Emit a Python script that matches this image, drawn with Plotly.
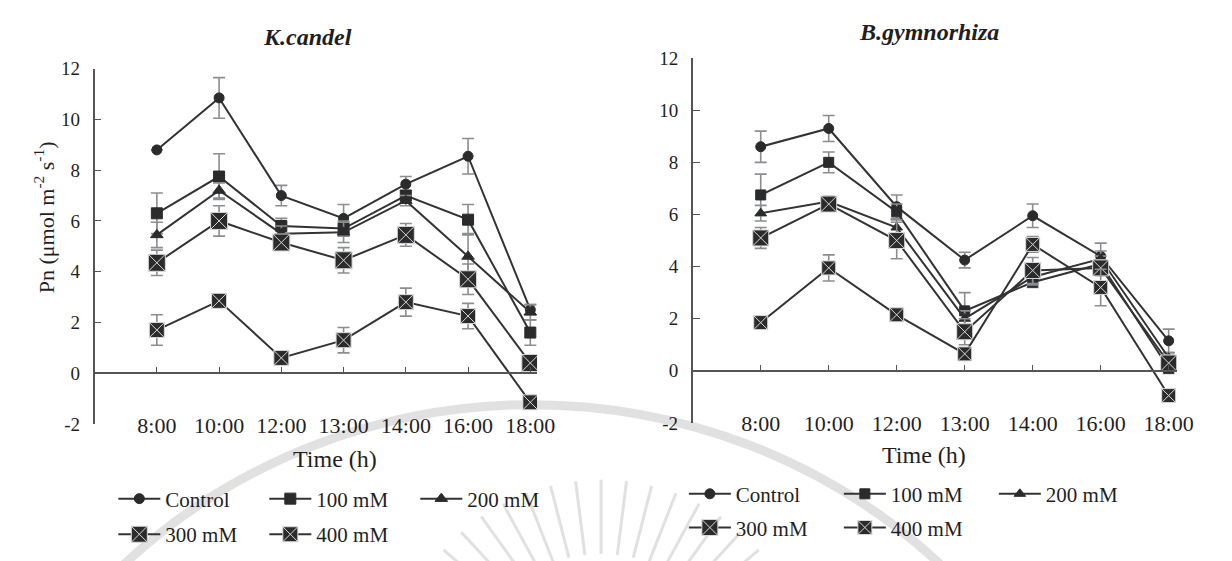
import math
import plotly.graph_objects as go

# Sampling times (x categories)
times = ["8:00", "10:00", "12:00", "13:00", "14:00", "16:00", "18:00"]
treatments = ["Control", "100 mM", "200 mM", "300 mM", "400 mM"]

# K. candel net photosynthetic rate (mean) and error
kc_control = [8.8, 10.85, 7.0, 6.1, 7.45, 8.55, 2.5]
kc_control_err = [0.0, 0.8, 0.4, 0.55, 0.3, 0.7, 0.2]
kc_100 = [6.3, 7.75, 5.8, 5.7, 7.0, 6.05, 1.6]
kc_100_err = [0.8, 0.9, 0.3, 0.3, 0.2, 0.6, 0.5]
kc_200 = [5.45, 7.2, 5.5, 5.55, 6.8, 4.6, 2.4]
kc_200_err = [0.5, 0.3, 0.3, 0.4, 0.2, 0.9, 0.3]
kc_300 = [4.35, 6.0, 5.15, 4.45, 5.45, 3.7, 0.4]
kc_300_err = [0.5, 0.6, 0.2, 0.5, 0.45, 0.6, 0.2]
kc_400 = [1.7, 2.85, 0.6, 1.3, 2.8, 2.25, -1.15]
kc_400_err = [0.6, 0.1, 0.1, 0.5, 0.55, 0.5, 0.1]

# B. gymnorhiza net photosynthetic rate (mean) and error
bg_control = [8.6, 9.3, 6.3, 4.25, 5.95, 4.4, 1.15]
bg_control_err = [0.6, 0.5, 0.45, 0.3, 0.45, 0.5, 0.45]
bg_100 = [6.75, 8.0, 6.1, 2.3, 3.4, 4.1, 0.1]
bg_100_err = [0.8, 0.4, 0.3, 0.7, 0.2, 0.3, 0.2]
bg_200 = [6.05, 6.5, 5.5, 2.0, 3.6, 4.3, 0.5]
bg_200_err = [0.3, 0.2, 0.3, 0.3, 0.3, 0.3, 0.2]
bg_300 = [5.1, 6.4, 5.0, 1.5, 3.85, 3.95, 0.3]
bg_300_err = [0.4, 0.2, 0.7, 0.5, 0.5, 0.3, 0.3]
bg_400 = [1.85, 3.95, 2.15, 0.65, 4.85, 3.2, -0.95]
bg_400_err = [0.0, 0.5, 0.0, 0.1, 0.3, 0.7, 0.0]

y_ticks = [-2, 0, 2, 4, 6, 8, 10, 12]
y_tick_text = ["-2", "0", "2", "4", "6", "8", "10", "12"]

W, H = 1232, 561
SERIF = "Liberation Serif, Times New Roman, serif"
LINE = "#333333"
ERR = "#8a8d92"
AXIS = "#555555"
TXT = "#1f1f1f"


def px(x):
    return x / W


def py(y):
    return 1 - y / H


symbols = ["circle", "square", "triangle-up", "square-x", "square-x"]

fig = go.Figure()

panels = [
    ("x", "y", [kc_control, kc_100, kc_200, kc_300, kc_400],
     [kc_control_err, kc_100_err, kc_200_err, kc_300_err, kc_400_err],
     [10, 11, 11, 17, 15], ["legend", "legend", "legend", "legend2", "legend2"]),
    ("x2", "y2", [bg_control, bg_100, bg_200, bg_300, bg_400],
     [bg_control_err, bg_100_err, bg_200_err, bg_300_err, bg_400_err],
     [10, 10, 10, 16, 14], ["legend3", "legend3", "legend3", "legend4", "legend4"]),
]

for xa, ya, series, errs, sizes, legs in panels:
    for name, vals, err, sym, size, leg in zip(treatments, series, errs, symbols, sizes, legs):
        fig.add_trace(go.Scatter(
            x=times, y=vals, name=name, xaxis=xa, yaxis=ya, legend=leg,
            mode="lines+markers",
            line=dict(color=LINE, width=2),
            marker=dict(symbol=sym, size=size, color="#2b2b2b",
                        line=dict(color="#d8d8d8" if "x" in sym else "#2b2b2b",
                                  width=1)),
            error_y=dict(type="data", array=err, visible=True, color=ERR,
                         thickness=1.6, width=6),
            showlegend=True,
        ))

common_x = dict(
    type="category", categoryorder="array", categoryarray=times,
    anchor="free", showline=True, linecolor=AXIS, linewidth=1.6,
    ticks="inside", ticklen=5, tickcolor=AXIS, tickwidth=1.3,
    tickfont=dict(family=SERIF, size=22, color=TXT),
    showgrid=False, zeroline=False, ticklabelstandoff=33,
)
common_y = dict(
    range=[-2, 12], tickvals=y_ticks, ticktext=y_tick_text, showline=True,
    linecolor=AXIS, linewidth=1.6, ticks="inside", ticklen=7,
    tickcolor=AXIS, tickwidth=1.3,
    tickfont=dict(family=SERIF, size=19, color=TXT),
    showgrid=False, zeroline=False, ticklabelstandoff=9,
)

legend_common = dict(
    orientation="h", xanchor="left", yanchor="middle",
    font=dict(family=SERIF, size=21, color=TXT),
    itemwidth=42, entrywidth=94, bgcolor="rgba(0,0,0,0)",
    itemclick=False, itemdoubleclick=False, traceorder="normal",
)

fig.update_layout(
    width=W, height=H, margin=dict(l=0, r=0, t=0, b=0),
    paper_bgcolor="white", plot_bgcolor="rgba(0,0,0,0)",
    xaxis=dict(common_x, domain=[px(96), px(545)], range=[-1, 6.108],
               position=py(377.3)),
    yaxis=dict(common_y, domain=[py(430), py(61)], anchor="x"),
    xaxis2=dict(common_x, domain=[px(703), px(1194)], range=[-1, 6.116],
                position=py(374.9)),
    yaxis2=dict(common_y, domain=[py(429), py(50)], anchor="x2"),
    legend=dict(legend_common, x=px(115), y=py(508)),
    legend2=dict(legend_common, x=px(115), y=py(545)),
    legend3=dict(legend_common, x=px(694), y=py(503), entrywidth=98),
    legend4=dict(legend_common, x=px(694), y=py(538), entrywidth=98),
)

# Panel titles, axis titles
annos = [
    dict(text="<b><i>K.candel</i></b>", x=px(312), y=py(28), size=24),
    dict(text="<b><i>B.gymnorhiza</i></b>", x=px(943), y=py(23), size=24),
    dict(text="Time (h)", x=px(340), y=py(466), size=24),
    dict(text="Time (h)", x=px(938), y=py(462), size=24),
]
for a in annos:
    fig.add_annotation(text=a["text"], x=a["x"], y=a["y"], xref="paper",
                       yref="paper", showarrow=False, xanchor="center",
                       yanchor="middle",
                       font=dict(family=SERIF, size=a["size"], color=TXT))
fig.add_annotation(text="Pn (μmol m<sup>-2</sup> s<sup>-1</sup>)",
                   x=px(45), y=py(215), xref="paper", yref="paper",
                   showarrow=False, textangle=-90, xanchor="center",
                   yanchor="middle",
                   font=dict(family=SERIF, size=22, color=TXT))

# Faint background emblem: a ring with a fan of rays beneath
WM = "rgba(195,195,195,0.5)"
cx, cy, r = 540, 1010, 600
fig.add_shape(type="circle", xref="paper", yref="paper",
              x0=px(cx - r), x1=px(cx + r), y0=py(cy + r), y1=py(cy - r),
              line=dict(color=WM, width=9), layer="below")
rcx, rcy = 610, 700
for ang in range(-49, 50, 7):
    a = math.radians(ang)
    r0, r1 = 135, 212
    fig.add_shape(type="line", xref="paper", yref="paper",
                  x0=px(rcx + r0 * math.sin(a)), y0=py(rcy - r0 * math.cos(a)),
                  x1=px(rcx + r1 * math.sin(a)), y1=py(rcy - r1 * math.cos(a)),
                  line=dict(color=WM, width=3), layer="below")

fig.write_html("out.html")
